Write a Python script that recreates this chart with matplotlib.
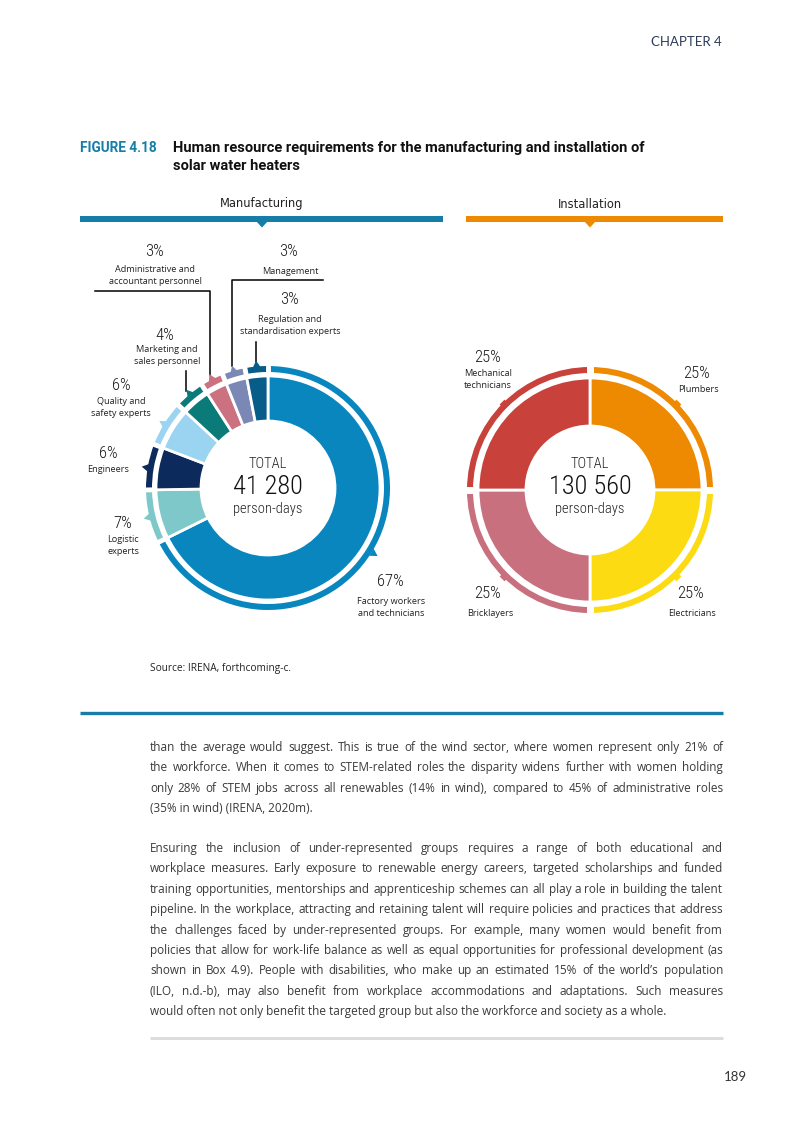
import numpy as np
import matplotlib
matplotlib.use("Agg")
import matplotlib.pyplot as plt

W, H = 803, 1134

# ---------------------------
# Data
# ---------------------------
mfg_roles = ["Factory workers\nand technicians", "Logistic\nexperts", "Engineers",
             "Quality and\nsafety experts", "Marketing and\nsales personnel",
             "Administrative and\naccountant personnel", "Management",
             "Regulation and\nstandardisation experts"]
mfg_share = [67, 7, 6, 6, 4, 3, 3, 3]
mfg_colors = ["#0A86BF", "#7FC8CA", "#0D2A5C", "#9BD4F0", "#0A7B78", "#CB7180", "#7B88B6", "#075C89"]
mfg_total = "41 280"

inst_roles = ["Plumbers", "Electricians", "Bricklayers", "Mechanical\ntechnicians"]
inst_share = [25, 25, 25, 25]
inst_colors = ["#EE8A02", "#FCDB12", "#C8707E", "#C8413B"]
inst_total = "130 560"

# label anchors (page pixels): percent label, first line of name
mfg_pct_xy = [(390, 582), (123, 523), (108, 454), (121, 386), (165, 335), (155, 251), (289, 252), (290, 300)]
mfg_name_xy = [(391, 601), (123, 540), (108, 470), (121, 402), (167, 350), (155, 269), (290, 271), (290, 320)]
inst_pct_xy = [(697, 373), (691, 594), (488, 594), (488, 357)]
inst_name_xy = [(698, 389), (692, 613), (490, 613), (488, 374)]

para1 = ["than the average would suggest. This is true of the wind sector, where women represent only 21% of",
         "the workforce. When it comes to STEM-related roles the disparity widens further with women holding",
         "only 28% of STEM jobs across all renewables (14% in wind), compared to 45% of administrative roles",
         "(35% in wind) (IRENA, 2020m)."]
para2 = ["Ensuring the inclusion of under-represented groups requires a range of both educational and",
         "workplace measures. Early exposure to renewable energy careers, targeted scholarships and funded",
         "training opportunities, mentorships and apprenticeship schemes can all play a role in building the talent",
         "pipeline. In the workplace, attracting and retaining talent will require policies and practices that address",
         "the challenges faced by under-represented groups. For example, many women would benefit from",
         "policies that allow for work-life balance as well as equal opportunities for professional development (as",
         "shown in Box 4.9). People with disabilities, who make up an estimated 15% of the world\u2019s population",
         "(ILO, n.d.-b), may also benefit from workplace accommodations and adaptations. Such measures",
         "would often not only benefit the targeted group but also the workforce and society as a whole."]

BLUE = "#157DA8"
ORANGE = "#EE8A02"
NARROW = ["Roboto Condensed", "Liberation Sans Narrow", "Roboto"]

fig = plt.figure(figsize=(W / 100, H / 100), dpi=100)
ax = fig.add_axes([0, 0, 1, 1])


def polar(cx, cy, r, bearing):
    b = np.deg2rad(bearing)
    return cx + r * np.sin(b), cy - r * np.cos(b)


# ---------------------------
# Donut helper
# ---------------------------
def donut(cx, cy, shares, colors, hole, arc_in, arc_out, tab):
    ax.pie(shares, colors=colors, radius=112, center=(cx, cy), startangle=-90, counterclock=True,
           wedgeprops=dict(width=112 - hole, edgecolor="white", linewidth=2.0), frame=True)
    ax.pie(shares, colors=colors, radius=arc_out, center=(cx, cy), startangle=-90, counterclock=True,
           wedgeprops=dict(width=arc_out - arc_in, linewidth=0), frame=True)
    bounds = np.cumsum([0] + list(shares)) / sum(shares) * 360
    cut = 3.5 if tab == "tri" else 5
    for b in bounds[:-1]:
        (x0, y0), (x1, y1) = polar(cx, cy, 113, b), polar(cx, cy, arc_out + 6, b)
        ax.plot([x0, x1], [y0, y1], color="white", lw=cut, solid_capstyle="butt", zorder=3)
    mids = (bounds[:-1] + bounds[1:]) / 2
    tips = []
    for m, c in zip(mids, colors):
        if tab == "tri":
            x, y = polar(cx, cy, arc_out + 1.5, m)
            ax.plot(x, y, marker=(3, 0, -m), ms=7, color=c, mew=0, zorder=4)
            tips.append(polar(cx, cy, arc_out + 5, m))
        else:
            x, y = polar(cx, cy, arc_out - 1, m)
            ax.plot(x, y, marker=(4, 0, 45 - m), ms=7, color=c, mew=0, zorder=4)
    return tips


tips = donut(268, 488, mfg_share, mfg_colors, 67, 116, 122, "tri")
donut(590, 490, inst_share, inst_colors, 64, 117, 123, "sq")

# leader lines for the small manufacturing slices
k = {r.split("\n")[0]: i for i, r in enumerate(mfg_roles)}
tx, ty = tips[k["Administrative and"]]
ax.plot([95, tx, tx], [291, 291, ty], color="black", lw=1.1)
tx, ty = tips[k["Management"]]
ax.plot([323, tx, tx], [280, 280, ty], color="black", lw=1.1)
tx, ty = tips[k["Regulation and"]]
ax.plot([tx, tx], [342, ty], color="black", lw=1.1)
tx, ty = tips[k["Marketing and"]]
ax.plot([tx, tx], [371, ty], color="black", lw=1.1)


def role_labels(shares, roles, pct_xy, name_xy):
    for s, r, (px, py), (nx, ny) in zip(shares, roles, pct_xy, name_xy):
        ax.text(px, py, f"{s}%", ha="center", va="center", fontsize=12, family=NARROW,
                weight="light", color="#1A1A1A")
        for i, line in enumerate(r.split("\n")):
            ax.text(nx, ny + i * 12, line, ha="center", va="center", fontsize=6.6,
                    family="Open Sans", color="#222222")


role_labels(mfg_share, mfg_roles, mfg_pct_xy, mfg_name_xy)
role_labels(inst_share, inst_roles, inst_pct_xy, inst_name_xy)

for cx, tot in [(268, mfg_total), (590, inst_total)]:
    ax.text(cx, 464, "TOTAL", ha="center", va="center", fontsize=10.5, family=NARROW,
            weight="light", color="#222222")
    ax.text(cx, 487, tot, ha="center", va="center", fontsize=19, family=NARROW,
            weight="light", color="#111111")
    ax.text(cx, 509, "person-days", ha="center", va="center", fontsize=10.5, family=NARROW,
            weight="light", color="#222222")

# ---------------------------
# Page header and figure title
# ---------------------------
ax.text(722, 42, "CHAPTER 4", ha="right", va="center", fontsize=9.5, family="Lato",
        color="#2D3B5C")
ax.text(80, 148, "FIGURE 4.18", ha="left", va="center", fontsize=9.8, family="Roboto",
        weight="bold", color=BLUE)
ax.text(173, 148, "Human resource requirements for the manufacturing and installation of",
        ha="left", va="center", fontsize=10.5, family="Roboto", weight="bold", color="#111111")
ax.text(173, 166, "solar water heaters", ha="left", va="center", fontsize=10.5, family="Roboto",
        weight="bold", color="#111111")

for (x0, x1, mid, name, col) in [(80, 443, 262, "Manufacturing", BLUE), (466, 723, 590, "Installation", ORANGE)]:
    ax.text(mid, 204, name, ha="center", va="center", fontsize=8.3, family="DejaVu Sans",
            color="#222222")
    ax.fill_between([x0, x1], 216, 221.5, color=col, lw=0)
    ax.fill([mid - 6, mid + 6, mid], [221, 221, 227.5], color=col, lw=0)

ax.text(150, 669, "Source: IRENA, forthcoming-c.", ha="left", va="center", fontsize=7.3,
        family="Open Sans", color="#222222")
ax.plot([80, 723], [713, 713], color=BLUE, lw=2.4, solid_capstyle="butt")

# ---------------------------
# Body text, justified
# ---------------------------
renderer = fig.canvas.get_renderer()
LEFT, RIGHT = 150, 723
body_kw = dict(family="Open Sans", color="#3A3A3A", va="baseline", ha="left")


def text_w(s, size):
    t = ax.text(0, 0, s, fontsize=size, **body_kw)
    w = t.get_window_extent(renderer).width
    t.remove()
    return w


# pick the size so the widest line just fits the column
widest = max(text_w(l, 10) for l in para1 + para2)
body_size = 10 * (RIGHT - LEFT - 3) / widest


def paragraph(lines, y0, step=20.4):
    for i, line in enumerate(lines):
        y = y0 + i * step
        if i == len(lines) - 1:
            ax.text(LEFT, y, line, fontsize=body_size, **body_kw)
            continue
        words = line.split(" ")
        widths = [text_w(w, body_size) for w in words]
        gap = (RIGHT - LEFT - sum(widths)) / (len(words) - 1)
        x = LEFT
        for w, wd in zip(words, widths):
            ax.text(x, y, w, fontsize=body_size, **body_kw)
            x += wd + gap


paragraph(para1, 751)
paragraph(para2, 852)

ax.plot([150, 723], [1038, 1038], color="#DDDDDD", lw=2.2, solid_capstyle="butt")
ax.text(747, 1077, "189", ha="right", va="center", fontsize=9.5, family="Lato", color="#333333")

ax.set_xlim(0, W)
ax.set_ylim(H, 0)
ax.set_aspect("equal")
ax.set_axis_off()

fig.savefig("out.png", dpi=100, facecolor="white")
